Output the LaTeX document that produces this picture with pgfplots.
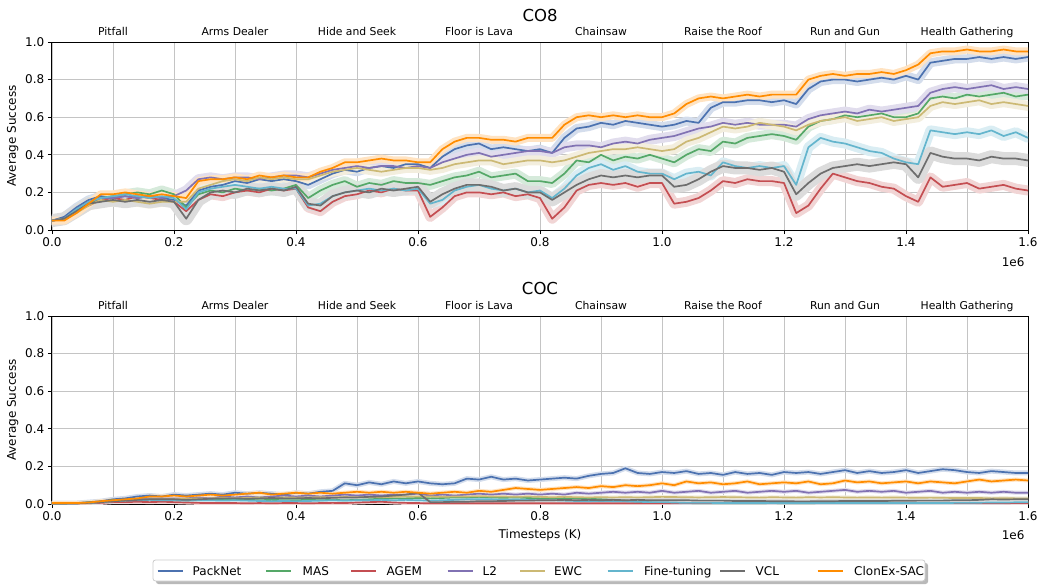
\documentclass[border=0pt]{standalone}
\usepackage{fontspec}
\setmainfont{DejaVu Sans}
\usepackage{pgfplots}
\usepackage{pgfplotstable}
\pgfplotsset{compat=1.18}

\definecolor{cPN}{HTML}{4C72B0}
\definecolor{cMAS}{HTML}{55A868}
\definecolor{cAGEM}{HTML}{C44E52}
\definecolor{cLtwo}{HTML}{8172B3}
\definecolor{cEWC}{HTML}{CCB974}
\definecolor{cFT}{HTML}{64B5CD}
\definecolor{cVCL}{HTML}{6E6E6E}
\definecolor{cCLX}{HTML}{FF8C00}
\definecolor{gridgray}{HTML}{C4C4C4}
\definecolor{legendgray}{HTML}{CCCCCC}

\pgfplotstableread{
x pn mas agem l2 ewc ft vcl clx
0.00 .05 .05 .05 .05 .05 .05 .05 .05
0.02 .07 .06 .06 .06 .06 .06 .06 .05
0.04 .12 .10 .10 .11 .09 .11 .10 .09
0.06 .16 .14 .13 .15 .13 .15 .14 .14
0.08 .18 .17 .16 .17 .16 .17 .15 .19
0.10 .17 .18 .17 .17 .15 .18 .16 .19
0.12 .18 .19 .16 .18 .16 .19 .15 .20
0.14 .17 .20 .18 .17 .15 .18 .16 .19
0.16 .18 .19 .17 .18 .14 .17 .15 .18
0.18 .17 .21 .16 .17 .15 .18 .16 .19
0.20 .16 .19 .15 .18 .15 .17 .15 .18
0.22 .13 .12 .10 .21 .15 .11 .06 .17
0.24 .21 .19 .16 .27 .22 .20 .16 .26
0.26 .23 .21 .19 .28 .24 .22 .20 .27
0.28 .24 .20 .18 .27 .26 .23 .21 .27
0.30 .26 .22 .20 .28 .27 .24 .20 .28
0.32 .25 .21 .21 .28 .26 .23 .22 .27
0.34 .27 .22 .20 .27 .28 .22 .21 .29
0.36 .26 .21 .22 .28 .27 .23 .22 .28
0.38 .27 .22 .21 .29 .28 .22 .21 .29
0.40 .26 .24 .22 .29 .27 .22 .23 .28
0.42 .24 .17 .12 .28 .27 .13 .14 .28
0.44 .27 .21 .10 .30 .29 .14 .13 .31
0.46 .30 .24 .15 .32 .31 .18 .18 .33
0.48 .32 .26 .18 .33 .32 .20 .20 .36
0.50 .31 .23 .19 .34 .33 .21 .21 .36
0.52 .33 .25 .21 .33 .32 .22 .20 .37
0.54 .34 .24 .20 .34 .31 .21 .22 .38
0.56 .33 .26 .22 .34 .32 .22 .21 .37
0.58 .35 .25 .21 .33 .33 .21 .22 .37
0.60 .35 .25 .21 .34 .33 .22 .23 .36
0.62 .33 .24 .07 .33 .32 .14 .15 .36
0.64 .39 .26 .12 .36 .33 .16 .19 .43
0.66 .43 .28 .18 .38 .35 .21 .22 .47
0.68 .45 .29 .20 .40 .36 .23 .24 .49
0.70 .46 .31 .20 .41 .37 .24 .24 .49
0.72 .43 .28 .19 .39 .37 .22 .23 .48
0.74 .44 .29 .20 .40 .35 .21 .21 .48
0.76 .43 .30 .18 .41 .36 .22 .22 .47
0.78 .42 .26 .19 .42 .37 .20 .20 .49
0.80 .43 .26 .17 .42 .37 .21 .20 .49
0.82 .41 .25 .06 .41 .36 .17 .16 .49
0.84 .49 .30 .12 .44 .37 .22 .20 .56
0.86 .54 .37 .21 .45 .39 .29 .24 .60
0.88 .55 .36 .24 .45 .41 .33 .27 .61
0.90 .57 .40 .25 .44 .42 .35 .29 .60
0.92 .56 .37 .24 .46 .43 .32 .28 .61
0.94 .58 .39 .25 .47 .43 .34 .29 .60
0.96 .57 .38 .23 .46 .44 .31 .28 .61
0.98 .56 .40 .25 .48 .43 .30 .29 .60
1.00 .55 .38 .25 .49 .42 .30 .29 .60
1.02 .56 .36 .14 .50 .43 .27 .23 .62
1.04 .58 .40 .15 .52 .47 .30 .24 .67
1.06 .57 .43 .17 .54 .49 .31 .27 .70
1.08 .65 .42 .21 .55 .52 .29 .31 .71
1.10 .68 .47 .26 .57 .55 .36 .34 .70
1.12 .68 .46 .25 .56 .54 .34 .33 .71
1.14 .69 .49 .27 .57 .55 .33 .33 .72
1.16 .69 .50 .26 .56 .57 .34 .32 .71
1.18 .68 .51 .26 .56 .56 .33 .33 .72
1.20 .69 .50 .25 .56 .55 .34 .31 .72
1.22 .67 .48 .09 .55 .53 .24 .19 .72
1.24 .75 .55 .13 .59 .56 .44 .25 .80
1.26 .79 .58 .22 .61 .58 .49 .30 .82
1.28 .80 .59 .30 .62 .59 .47 .33 .83
1.30 .80 .61 .28 .63 .60 .46 .34 .82
1.32 .79 .60 .26 .62 .58 .44 .35 .83
1.34 .80 .61 .25 .64 .59 .42 .34 .83
1.36 .81 .62 .23 .63 .60 .41 .35 .84
1.38 .80 .60 .22 .64 .58 .38 .36 .83
1.40 .82 .60 .18 .65 .59 .36 .35 .85
1.42 .80 .62 .15 .66 .60 .35 .28 .88
1.44 .89 .70 .28 .73 .66 .53 .41 .94
1.46 .90 .71 .23 .75 .68 .52 .39 .95
1.48 .91 .70 .24 .76 .67 .51 .38 .95
1.50 .91 .72 .25 .75 .68 .52 .38 .96
1.52 .92 .71 .22 .76 .69 .51 .37 .95
1.54 .91 .72 .23 .77 .67 .53 .39 .95
1.56 .92 .73 .24 .75 .68 .50 .38 .96
1.58 .91 .71 .22 .76 .67 .52 .38 .95
1.60 .92 .72 .21 .75 .66 .49 .37 .95
}\topdata

\pgfplotstableread{
x pn mas agem l2 ewc ft vcl clx
0.00 .005 .003 .003 .003 .003 .003 .003 .005
0.02 .005 .003 .003 .003 .003 .003 .003 .005
0.04 .005 .004 .003 .003 .004 .003 .004 .005
0.06 .010 .008 .004 .005 .006 .006 .006 .008
0.08 .015 .012 .006 .010 .010 .010 .010 .015
0.10 .025 .020 .010 .015 .015 .015 .015 .020
0.12 .030 .022 .010 .020 .020 .018 .018 .025
0.14 .040 .025 .012 .025 .022 .020 .022 .030
0.16 .045 .028 .010 .030 .025 .022 .025 .040
0.18 .040 .025 .012 .030 .025 .020 .025 .040
0.20 .050 .025 .010 .030 .025 .020 .025 .045
0.22 .045 .020 .008 .030 .028 .018 .022 .040
0.24 .050 .022 .006 .035 .030 .020 .025 .045
0.26 .055 .025 .005 .030 .030 .020 .028 .050
0.28 .050 .024 .005 .040 .032 .018 .030 .045
0.30 .060 .025 .005 .035 .030 .020 .030 .050
0.32 .055 .022 .004 .040 .033 .018 .028 .055
0.34 .060 .020 .005 .035 .035 .016 .030 .060
0.36 .055 .022 .004 .040 .032 .015 .032 .050
0.38 .050 .020 .005 .045 .035 .016 .030 .055
0.40 .060 .020 .005 .040 .034 .015 .030 .060
0.42 .055 .022 .004 .045 .035 .016 .032 .055
0.44 .065 .020 .005 .040 .036 .018 .030 .060
0.46 .070 .022 .006 .045 .035 .020 .033 .055
0.48 .110 .020 .005 .050 .037 .018 .035 .060
0.50 .100 .022 .008 .045 .036 .020 .035 .065
0.52 .115 .025 .010 .050 .038 .020 .038 .060
0.54 .105 .028 .012 .045 .036 .022 .040 .065
0.56 .120 .030 .008 .050 .038 .020 .045 .060
0.58 .110 .030 .006 .050 .040 .022 .050 .065
0.60 .120 .032 .005 .055 .040 .020 .060 .060
0.62 .110 .030 .004 .045 .040 .018 .010 .055
0.64 .105 .032 .004 .050 .038 .020 .010 .060
0.66 .110 .035 .004 .045 .040 .022 .012 .065
0.68 .135 .035 .004 .050 .040 .025 .012 .060
0.70 .130 .038 .004 .055 .042 .025 .015 .070
0.72 .145 .035 .004 .050 .040 .025 .015 .065
0.74 .130 .033 .004 .055 .040 .022 .016 .075
0.76 .135 .035 .004 .050 .038 .024 .018 .085
0.78 .125 .032 .004 .055 .040 .022 .018 .080
0.80 .130 .030 .004 .050 .038 .020 .020 .075
0.82 .135 .030 .004 .055 .036 .020 .020 .080
0.84 .140 .032 .004 .050 .038 .018 .022 .085
0.86 .135 .030 .004 .060 .036 .016 .020 .090
0.88 .150 .028 .004 .055 .035 .015 .022 .085
0.90 .160 .025 .004 .060 .036 .016 .020 .095
0.92 .165 .022 .004 .065 .035 .015 .022 .090
0.94 .190 .018 .004 .060 .036 .014 .020 .100
0.96 .165 .012 .004 .065 .035 .012 .022 .095
0.98 .160 .008 .004 .060 .036 .010 .020 .100
1.00 .170 .005 .004 .070 .038 .010 .020 .110
1.02 .165 .005 .004 .060 .037 .008 .020 .100
1.04 .175 .005 .004 .065 .036 .006 .020 .120
1.06 .160 .004 .004 .070 .035 .006 .018 .110
1.08 .165 .004 .004 .060 .036 .006 .018 .115
1.10 .155 .004 .004 .065 .037 .005 .018 .105
1.12 .170 .004 .004 .070 .036 .005 .016 .110
1.14 .160 .004 .004 .060 .035 .005 .016 .120
1.16 .165 .004 .004 .065 .034 .005 .016 .105
1.18 .155 .005 .004 .070 .036 .005 .015 .110
1.20 .170 .004 .004 .065 .035 .005 .015 .115
1.22 .165 .004 .004 .070 .034 .005 .014 .110
1.24 .170 .004 .004 .060 .036 .005 .014 .120
1.26 .160 .005 .004 .065 .035 .005 .015 .105
1.28 .170 .006 .004 .070 .036 .005 .015 .110
1.30 .180 .005 .004 .075 .035 .005 .016 .125
1.32 .165 .006 .004 .065 .034 .005 .016 .115
1.34 .175 .008 .004 .070 .035 .005 .016 .120
1.36 .165 .012 .004 .065 .034 .005 .016 .110
1.38 .170 .006 .004 .070 .035 .005 .017 .115
1.40 .180 .005 .004 .060 .034 .005 .017 .120
1.42 .165 .005 .004 .065 .033 .005 .018 .110
1.44 .175 .005 .004 .070 .034 .005 .018 .120
1.46 .185 .005 .004 .060 .033 .005 .018 .115
1.48 .180 .005 .004 .065 .032 .006 .020 .110
1.50 .170 .005 .004 .060 .032 .006 .020 .120
1.52 .165 .005 .004 .065 .032 .007 .022 .130
1.54 .175 .005 .004 .060 .030 .008 .025 .120
1.56 .170 .005 .004 .065 .031 .008 .024 .125
1.58 .165 .005 .005 .060 .030 .009 .025 .130
1.60 .165 .005 .005 .060 .030 .010 .025 .125
}\botdata

% band: light opaque colour, drawn first; line drawn afterwards
\newcommand{\band}[4]{%
  \addplot[forget plot, draw=#3!24!white, line width=#4, line join=round, line cap=round] table[x=x,y=#2]{#1};
}
\newcommand{\curve}[3]{%
  \addplot[forget plot, draw=#3, line width=1.7pt, line join=round] table[x=x,y=#2]{#1};
}
\newcommand{\tasklabels}{%
  \node[tasklbl] at (axis cs:0.1,1) {Pitfall};
  \node[tasklbl] at (axis cs:0.3,1) {Arms Dealer};
  \node[tasklbl] at (axis cs:0.5,1) {Hide and Seek};
  \node[tasklbl] at (axis cs:0.7,1) {Floor is Lava};
  \node[tasklbl] at (axis cs:0.9,1) {Chainsaw};
  \node[tasklbl] at (axis cs:1.1,1) {Raise the Roof};
  \node[tasklbl] at (axis cs:1.3,1) {Run and Gun};
  \node[tasklbl] at (axis cs:1.5,1) {Health Gathering};
}
% one legend key: colour, x of key start (pt), x of text start (pt), text
\newcommand{\legkey}[4]{%
  \draw[draw=#1, line width=1.8pt] (#2pt,-571pt) -- ++(25pt,0pt);
  \node[anchor=base west, inner sep=0pt, font=\fontsize{12}{14}\selectfont] at (#3pt,-575.3pt) {#4};
}

\tikzset{tasklbl/.style={anchor=base, yshift=7pt, font=\fontsize{10.8}{12}\selectfont}}

\pgfplotsset{panel/.style={
  anchor=south west, scale only axis, width=976pt, height=188pt,
  xmin=0, xmax=1.6, ymin=0, ymax=1,
  xtick={0,0.2,0.4,0.6,0.8,1.0,1.2,1.4,1.6},
  minor xtick={0.1,0.3,0.5,0.7,0.9,1.1,1.3,1.5},
  ytick={0,0.2,0.4,0.6,0.8,1.0},
  scaled x ticks=false, scaled y ticks=false,
  xticklabel style={/pgf/number format/.cd, fixed, fixed zerofill, precision=1},
  yticklabel style={/pgf/number format/.cd, fixed, fixed zerofill, precision=1},
  /pgf/number format/assume math mode=true,
  tick label style={font=\fontsize{12}{14}\selectfont},
  label style={font=\fontsize{12}{14}\selectfont},
  grid=both,
  major grid style={draw=gridgray, line width=0.9pt},
  minor grid style={draw=gridgray, line width=0.9pt},
  tick align=outside, major tick length=4.2pt, minor tick length=0pt,
  tick style={black, line width=0.9pt},
  xtick pos=left, ytick pos=left,
  axis line style={black, line width=1pt},
  clip mode=individual,
  ylabel={Average Success},
}}

\begin{document}
\begin{tikzpicture}
\useasboundingbox (0pt,0pt) rectangle (1038pt,-584pt);

\begin{axis}[panel, at={(52pt,-230pt)}]
  \band{\topdata}{pn}{cPN}{9pt}
  \band{\topdata}{mas}{cMAS}{10pt}
  \band{\topdata}{agem}{cAGEM}{10pt}
  \band{\topdata}{l2}{cLtwo}{10pt}
  \band{\topdata}{ewc}{cEWC}{10pt}
  \band{\topdata}{ft}{cFT}{10pt}
  \band{\topdata}{vcl}{cVCL}{13pt}
  \band{\topdata}{clx}{cCLX}{8pt}
  \curve{\topdata}{pn}{cPN}
  \curve{\topdata}{mas}{cMAS}
  \curve{\topdata}{agem}{cAGEM}
  \curve{\topdata}{l2}{cLtwo}
  \curve{\topdata}{ewc}{cEWC}
  \curve{\topdata}{ft}{cFT}
  \curve{\topdata}{vcl}{cVCL}
  \curve{\topdata}{clx}{cCLX}
  \tasklabels
  \node[anchor=base, font=\fontsize{16.5}{18}\selectfont, yshift=21pt] at (rel axis cs:0.5,1) {CO8};
  \node[anchor=east, font=\fontsize{12}{14}\selectfont, yshift=-32pt] at (rel axis cs:1,0) {1e6};
\end{axis}

\begin{axis}[panel, at={(52pt,-504pt)}]
  \band{\botdata}{pn}{cPN}{5pt}
  \band{\botdata}{mas}{cMAS}{4pt}
  \band{\botdata}{agem}{cAGEM}{4pt}
  \band{\botdata}{l2}{cLtwo}{4pt}
  \band{\botdata}{ewc}{cEWC}{4pt}
  \band{\botdata}{ft}{cFT}{4pt}
  \band{\botdata}{vcl}{cVCL}{4pt}
  \band{\botdata}{clx}{cCLX}{4pt}
  \curve{\botdata}{pn}{cPN}
  \curve{\botdata}{mas}{cMAS}
  \curve{\botdata}{agem}{cAGEM}
  \curve{\botdata}{l2}{cLtwo}
  \curve{\botdata}{ewc}{cEWC}
  \curve{\botdata}{ft}{cFT}
  \curve{\botdata}{vcl}{cVCL}
  \curve{\botdata}{clx}{cCLX}
  \tasklabels
  \node[anchor=base, font=\fontsize{16.5}{18}\selectfont, yshift=22pt] at (rel axis cs:0.5,1) {COC};
  \node[anchor=east, font=\fontsize{12}{14}\selectfont, yshift=-31pt] at (rel axis cs:1,0) {1e6};
  \node[font=\fontsize{12}{14}\selectfont, yshift=-31pt] at (rel axis cs:0.5,0) {Timesteps (K)};
\end{axis}

% legend box with shadow
\fill[gray!55, rounded corners=2.5pt] (156pt,-563pt) rectangle (928pt,-584pt);
\filldraw[fill=white, draw=legendgray, line width=0.8pt, rounded corners=2.5pt] (153pt,-560pt) rectangle (925pt,-581pt);
\legkey{cPN}{157.5}{192.5}{PackNet}
\legkey{cMAS}{266}{302.5}{MAS}
\legkey{cAGEM}{351}{386.5}{AGEM}
\legkey{cLtwo}{447.5}{482.5}{L2}
\legkey{cEWC}{520}{554}{EWC}
\legkey{cFT}{607.5}{644}{Fine-tuning}
\legkey{cVCL}{720}{755.5}{VCL}
\legkey{cCLX}{817.5}{854}{ClonEx-SAC}
\end{tikzpicture}
\end{document}
